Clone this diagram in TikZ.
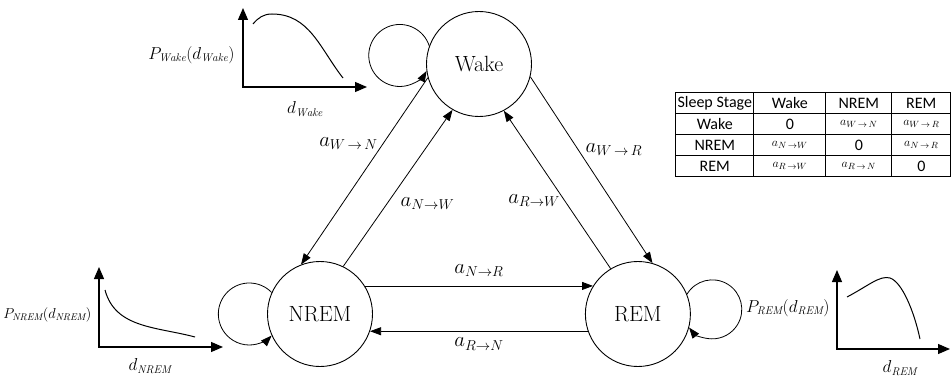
\documentclass[tikz,border=0pt]{standalone}
\usepackage{fontspec}
\newfontfamily\tablefont{Carlito}
\usetikzlibrary{arrows.meta, positioning, matrix}

\newcommand{\tprob}[1]{{\fontsize{13}{15}\selectfont$#1$}}

\begin{document}
\begin{tikzpicture}[
    x=1pt, y=1pt,
    state/.style={circle, draw, line width=0.9pt, minimum size=105pt, inner sep=0pt, font=\fontsize{22}{26}\selectfont},
    line/.style={draw, line width=0.8pt, -{Triangle[length=11pt, width=8pt]}},
    axis/.style={draw, line width=1.2pt, {Triangle[length=12pt, width=10pt]}-{Triangle[length=12pt, width=10pt]}},
    curve/.style={draw, line width=1pt},
    lab/.style={font=\fontsize{20}{24}\selectfont},
    plab/.style={font=\fontsize{16}{19}\selectfont}
]
\useasboundingbox (0,0) rectangle (951,381);

% States
\node[state] (wake) at (479,317) {Wake};
\node[state] (nrem) at (320,67) {NREM};
\node[state, right=212pt of nrem] (rem) {REM};

% Self loops
\path[line] (wake.160) arc[start angle=18, end angle=330, radius=31];
\path[line] (nrem.156) arc[start angle=44, end angle=316, radius=31];
\path[line] (rem.22) arc[start angle=149, end angle=-142, radius=29.5];

% Transitions
\path[line] (wake.195) -- node[lab, left=2pt, pos=0.35] {$a_{W\,\rightarrow\,N}$} (nrem.111);
\path[line] (nrem.64) -- node[lab, right=10pt, pos=0.4] {$a_{N\rightarrow W}$} (wake.240);
\path[line] (wake.-14) -- node[lab, right=4pt, pos=0.39] {$a_{W\,\rightarrow\,R}$} (rem.74);
\path[line] (rem.121) -- node[lab, left=1pt, pos=0.43] {$a_{R\rightarrow W}$} (wake.-62);
\path[line] (nrem.32) -- node[lab, above=6pt] {$a_{N\rightarrow R}$} (rem.148);
\path[line] (rem.199) -- node[lab, below=3pt] {$a_{R\rightarrow N}$} (nrem.-19);

% Duration distributions
\coordinate (wakeY) at (243,373);
\coordinate (wakeX) at (367,294);
\path[axis] (wakeY) |- (wakeX);
\path[curve] (253,357) to[out=50, in=180] (272,367) to[out=0, in=128] (343,303);
\node[plab, anchor=east] (wakeP) at (238,326) {$P_{\mathit{Wake}}(d_{\mathit{Wake}})$};
\node[plab] (wakeD) at (305,272) {$d_{\mathit{Wake}}$};

\coordinate (nremY) at (99,114);
\coordinate (nremX) at (223,34);
\path[axis] (nremY) |- (nremX);
\path[curve] (105,91) to[out=-75, in=165] (195,44);
\node[plab, anchor=east, font=\fontsize{14}{17}\selectfont] (nremP) at (95,66) {$P_{\mathit{NREM}}(d_{\mathit{NREM}})$};
\node[plab] (nremD) at (150,15) {$d_{\mathit{NREM}}$};

\coordinate (remY) at (837,111);
\coordinate (remX) at (950,32);
\path[axis] (remY) |- (remX);
\path[curve] (847,84) .. controls (868,95) and (880,106) .. (890,103) .. controls (902,99) and (914,70) .. (920,42);
\node[plab, anchor=east] (remP) at (833,73) {$P_{\mathit{REM}}(d_{\mathit{REM}})$};
\node[plab] (remD) at (900,13) {$d_{\mathit{REM}}$};

% Transition table
\matrix[matrix of nodes, anchor=north west, inner sep=0pt,
    nodes={draw, line width=1.2pt, minimum height=21pt, inner sep=1pt, anchor=center, font=\tablefont\fontsize{16}{19}\selectfont},
    column sep=-1.2pt, row sep=-1.2pt,
    column 1/.style={nodes={minimum width=78pt}},
    column 2/.style={nodes={minimum width=72pt}},
    column 3/.style={nodes={minimum width=66pt}},
    column 4/.style={nodes={minimum width=59pt}}] (stages) at (675,289) {
    Sleep Stage & Wake & NREM & REM \\
    Wake & 0 & \tprob{a_{W\,\rightarrow\,N}} & \tprob{a_{W\,\rightarrow\,R}} \\
    NREM & \tprob{a_{N\,\rightarrow W}} & 0 & \tprob{a_{N\,\rightarrow\,R}} \\
    REM & \tprob{a_{R\,\rightarrow W}} & \tprob{a_{R\,\rightarrow\,N}} & 0 \\
};

\end{tikzpicture}
\end{document}
